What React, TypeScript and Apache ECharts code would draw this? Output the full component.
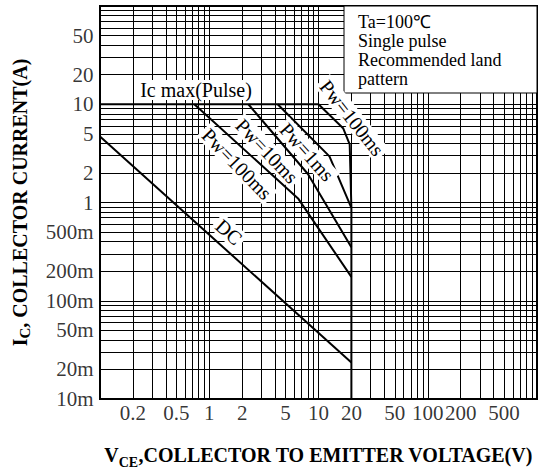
import React, { useEffect, useRef } from "react";
import * as echarts from "echarts";

// ---- axis / tick data ----
const xTickValues = [0.2, 0.5, 1, 2, 5, 10, 20, 50, 100, 200, 500];
const xTickLabels = ["0.2", "0.5", "1", "2", "5", "10", "20", "50", "100", "200", "500"];
const yTickValues = [0.01, 0.02, 0.05, 0.1, 0.2, 0.5, 1, 2, 5, 10, 20, 50];
const yTickLabels = ["10m", "20m", "50m", "100m", "200m", "500m", "1", "2", "5", "10", "20", "50"];
const xDecades = [0.1, 1, 10, 100];
const yDecades = [0.01, 0.1, 1, 10];
const gridSteps = [1, 2, 3, 4, 5, 6, 7, 8, 9];

// ---- curve data (VCE [V], IC [A]) ----
const icMaxPulse = [[0.1, 10], [10, 10]];
const pw100msLeft = [[0.73, 10], [6.5, 1.1], [20, 0.175]];
const pw10ms = [[2.28, 10], [8, 1.95], [20, 0.35]];
const pw1ms = [[4.23, 10], [12.6, 2.95], [20, 0.88]];
const pw100msRight = [[10, 10], [16.8, 5.7], [19.3, 3.9], [20, 0.88], [20, 0.01]];
const dcLine = [[0.1, 4.7], [20, 0.0235]];

const FONT = '"Liberation Serif", "Times New Roman", serif';

function curve(name: string, data: number[][]) {
  return {
    name,
    type: "line",
    data,
    symbol: "none",
    showSymbol: false,
    clip: true,
    silent: true,
    lineStyle: { color: "#000", width: 2 },
    z: 5,
  };
}

function curveLabel(text: string, x: number, y: number, rotation: number) {
  return {
    type: "text",
    z: 60,
    x,
    y,
    rotation,
    style: {
      text,
      font: `20px ${FONT}`,
      fill: "#000",
      align: "center",
      verticalAlign: "middle",
      backgroundColor: "#fff",
      padding: [0, 3],
    },
  };
}

export default function App() {
  const ref = useRef<HTMLDivElement>(null);
  useEffect(() => {
    const chart = echarts.init(ref.current!, null, { renderer: "svg" });
    const xGrid = xDecades.flatMap((d) => gridSteps.map((s) => d * s)).filter((v) => v > 0.1);
    const yGrid = yDecades.flatMap((d) => gridSteps.map((s) => d * s)).filter((v) => v > 0.01);

    const option: any = {
      animation: false,
      backgroundColor: "#fff",
      grid: {
        left: 100,
        top: 6,
        right: 13,
        bottom: 74,
        show: true,
        borderColor: "#000",
        borderWidth: 2,
        backgroundColor: "#fff",
      },
      xAxis: {
        type: "log",
        logBase: 10,
        min: 0.1,
        max: 1000,
        axisLine: { show: true, lineStyle: { color: "#000", width: 2 } },
        axisTick: { show: false },
        axisLabel: { show: false },
        splitLine: { show: false },
        name: "{a|V}{b|CE}{a|,COLLECTOR TO EMITTER VOLTAGE(V)}",
        nameLocation: "middle",
        nameGap: 46,
        nameTextStyle: {
          rich: {
            a: { fontFamily: FONT, fontSize: 20, fontWeight: "bold", color: "#000", lineHeight: 24, verticalAlign: "top" },
            b: { fontFamily: FONT, fontSize: 14, fontWeight: "bold", color: "#000", lineHeight: 14, padding: [10, 0, 0, 0], verticalAlign: "top" },
          },
        },
      },
      yAxis: {
        type: "log",
        logBase: 10,
        min: 0.01,
        max: 100,
        axisLine: { show: true, lineStyle: { color: "#000", width: 2 } },
        axisTick: { show: false },
        axisLabel: { show: false },
        splitLine: { show: false },
        name: "{a|I}{c|C}{a|, COLLECTOR CURRENT(A)}",
        nameLocation: "middle",
        nameRotate: 90,
        nameGap: 66,
        nameTextStyle: {
          rich: {
            a: { fontFamily: FONT, fontSize: 20, fontWeight: "bold", color: "#000", lineHeight: 24, verticalAlign: "top" },
            c: { fontFamily: FONT, fontSize: 15, fontWeight: "bold", color: "#000", lineHeight: 15, padding: [7, 0, 0, 0], verticalAlign: "top" },
          },
        },
      },
      series: [
        {
          name: "grid",
          type: "line",
          data: [[0.1, 0.01]],
          symbol: "none",
          lineStyle: { opacity: 0 },
          silent: true,
          z: 1,
          markLine: {
            silent: true,
            symbol: ["none", "none"],
            label: { show: false },
            lineStyle: { color: "#000", width: 1, type: "solid" },
            data: [...xGrid.map((v) => ({ xAxis: v })), ...yGrid.map((v) => ({ yAxis: v }))],
          },
        },
        curve("Ic max(Pulse)", icMaxPulse),
        curve("Pw=100ms (left)", pw100msLeft),
        curve("Pw=10ms", pw10ms),
        curve("Pw=1ms", pw1ms),
        curve("Pw=100ms (right)", pw100msRight),
        curve("DC", dcLine),
        {
          name: "xTicks",
          type: "scatter",
          data: xTickValues.map((v) => [v, 0.01]),
          symbolSize: 1,
          itemStyle: { color: "rgba(0,0,0,0)" },
          clip: false,
          silent: true,
          label: {
            show: true,
            position: "bottom",
            distance: 3,
            formatter: (p: any) => xTickLabels[p.dataIndex],
            fontFamily: FONT,
            fontSize: 21,
            color: "#000",
          },
        },
        {
          name: "yTicks",
          type: "scatter",
          data: yTickValues.map((v) => [0.1, v]),
          symbolSize: 1,
          itemStyle: { color: "rgba(0,0,0,0)" },
          clip: false,
          silent: true,
          label: {
            show: true,
            position: "left",
            distance: 6,
            formatter: (p: any) => yTickLabels[p.dataIndex],
            fontFamily: FONT,
            fontSize: 21,
            color: "#000",
          },
        },
      ],
      graphic: [
        {
          type: "rect",
          z: 50,
          shape: { x: 344, y: 6, width: 193, height: 87 },
          style: { fill: "#fff", stroke: "#000", lineWidth: 1 },
        },
        {
          type: "text",
          z: 51,
          x: 358,
          y: 12,
          style: {
            text: "Ta=100℃\nSingle pulse\nRecommended land\npattern",
            font: `18px ${FONT}`,
            fill: "#000",
            lineHeight: 19,
          },
        },
        curveLabel("Ic max(Pulse)", 196, 90, 0),
        curveLabel("Pw=100ms", 237, 164, -0.8),
        curveLabel("Pw=10ms", 267, 151, -0.81),
        curveLabel("Pw=1ms", 307, 152, -0.84),
        curveLabel("Pw=100ms", 352, 118, -0.9),
        curveLabel("DC", 229, 232, -0.73),
      ],
    };
    chart.setOption(option);
    return () => chart.dispose();
  }, []);
  return (
    <div
      ref={ref}
      style={{ position: "absolute", left: 0, top: 0, width: 550, height: 474, background: "#fff" }}
    />
  );
}
